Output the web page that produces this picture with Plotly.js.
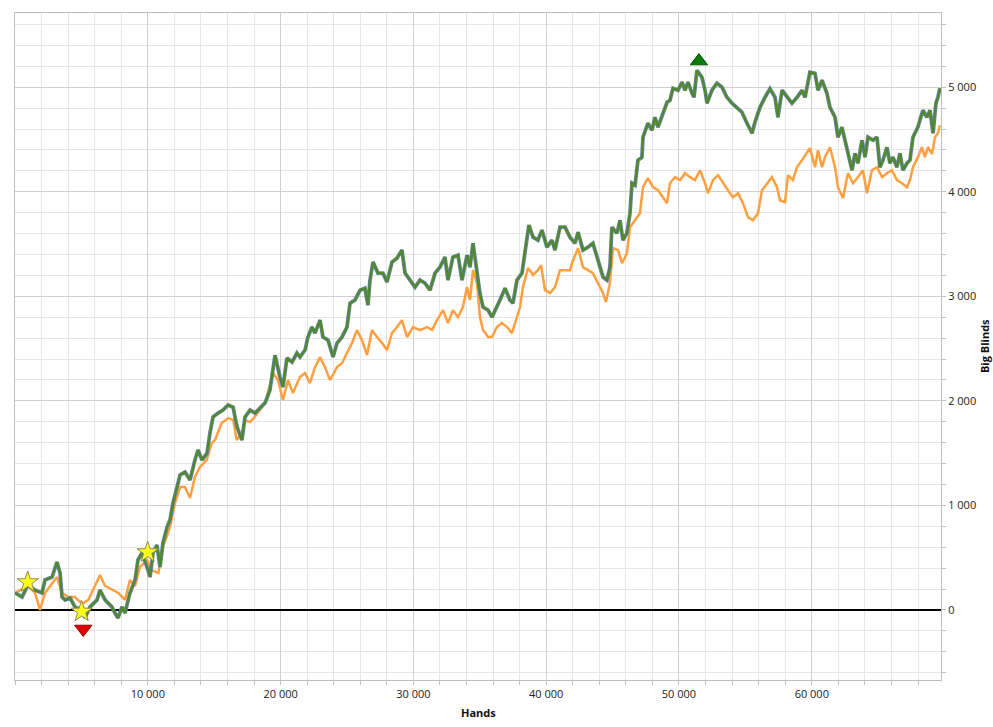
<!DOCTYPE html>
<html>
<head>
<meta charset="utf-8">
<script src="https://cdn.plot.ly/plotly-3.0.1.min.js"></script>
<style>
html,body{margin:0;padding:0;background:#fff;}
#chart{width:993px;height:727px;}
</style>
</head>
<body>
<div id="chart"></div>
<script>
// Net won (green) – hands and big blinds
const wonHands = [0,530,980,1500,2030,2260,2790,3160,3390,3540,3770,4140,4520,5050,5270,5650,6180,6400,6780,7300,7530,7760,8060,8280,8660,9040,9260,9560,9940,10170,10390,10690,10920,11140,11450,11670,11900,12200,12430,12800,13180,13550,13780,14080,14460,14680,14910,15290,15660,16040,16420,16720,17090,17320,17700,18070,18830,19200,19580,19950,20180,20480,20860,21230,21460,21840,22060,22360,22590,22970,23190,23570,23950,24250,24620,25000,25230,25600,25980,26350,26580,26730,26960,27330,27710,28010,28390,28760,29140,29370,29740,30120,30500,30870,31250,31630,32000,32380,32600,32980,33360,33660,34040,34260,34490,34790,35010,35240,35620,35920,36290,36520,36900,37270,37500,37800,38180,38400,38700,39010,39380,39680,40060,40440,40660,41040,41420,41790,42170,42400,42770,43150,43520,43900,44280,44580,44800,44950,45330,45560,45780,46080,46310,46460,46690,46910,47210,47290,47660,47970,48190,48420,48790,49100,49320,49550,49920,50230,50450,50680,50980,51130,51350,51730,51960,52110,52480,52860,53240,53610,53990,54370,54740,55120,55500,55720,56100,56480,56850,57230,57450,57760,58130,58510,58890,59260,59490,59860,60240,60470,60770,61140,61370,61750,61970,62270,62500,62720,63030,63250,63480,63780,64010,64230,64610,64910,65130,65360,65660,65880,66110,66410,66640,66860,67170,67390,67620,67990,68370,68670,68900,69130,69350,69500,69650];
const wonBB = [163,124,240,190,163,287,315,459,354,124,96,115,29,0,-76,29,96,191,96,29,-29,-76,29,-29,163,287,478,545,411,315,545,621,411,640,793,860,1023,1176,1291,1319,1243,1434,1530,1434,1500,1692,1845,1883,1912,1960,1940,1750,1625,1845,1912,1883,1980,2103,2437,2228,2132,2409,2371,2457,2419,2486,2610,2706,2648,2772,2610,2581,2419,2553,2610,2706,2935,2964,3059,3078,2916,3155,3327,3222,3222,3136,3327,3365,3442,3222,3155,3088,3155,3126,3059,3222,3279,3375,3155,3375,3394,3155,3394,3279,3508,3250,3030,2897,2868,2801,2897,2964,3078,2964,2935,3155,3222,3442,3681,3566,3537,3633,3470,3537,3442,3661,3661,3566,3508,3614,3442,3470,3508,3346,3184,3155,3279,3661,3604,3728,3537,3604,3795,4082,4063,4302,4331,4522,4656,4589,4713,4618,4751,4856,4875,4990,4971,5048,4971,5048,4942,4904,5162,5095,4971,4847,4971,5038,5000,4904,4847,4808,4761,4656,4560,4665,4808,4904,4985,4904,4713,4971,4904,4847,4904,4971,4904,5143,5133,4971,5067,4942,4808,4713,4522,4618,4493,4369,4206,4369,4273,4493,4331,4522,4493,4522,4235,4302,4426,4273,4331,4235,4369,4206,4273,4302,4522,4618,4780,4713,4780,4560,4847,4904,4990];

// All-in adjusted EV (orange)
const evHands = [0,980,1510,1880,2260,2790,3160,3540,4020,4520,5050,5520,6030,6400,6780,7300,7780,8280,8660,9040,9410,9940,10290,10800,11140,11670,12050,12430,12800,13180,13550,13930,14430,14810,15060,15560,16060,16440,16690,17070,17320,17700,18070,18830,19430,19800,20180,20560,20930,21460,21840,22210,22590,22970,23340,23720,24250,24620,25000,25380,25750,26130,26510,26880,27260,27640,28010,28390,28760,29140,29520,29970,30500,31020,31400,31780,32230,32600,32980,33360,33730,34040,34260,34490,34790,35010,35240,35620,35920,36290,36670,37050,37420,37800,38030,38250,38630,39010,39380,39610,39910,40290,40660,41040,41420,41790,42020,42400,42770,43150,43520,43900,44280,44500,44800,45030,45410,45710,46080,46310,46690,47060,47290,47660,48040,48420,48790,49100,49320,49700,50080,50450,50830,51200,51580,51960,52180,52560,52940,53310,53690,54070,54440,54820,55200,55570,55950,56250,56630,57000,57380,57600,57980,58210,58580,58880,59260,59640,59860,60240,60470,60770,60990,61370,61750,61970,62350,62720,63100,63480,63850,64160,64530,64910,65290,65660,66040,66410,66790,67170,67390,67620,67990,68290,68520,68750,69050,69280,69500,69650];
const evBB = [163,230,163,0,163,258,315,163,124,124,57,96,230,335,230,191,163,96,287,230,411,478,380,354,602,793,1023,1176,1176,1071,1272,1367,1434,1596,1625,1788,1835,1816,1625,1692,1816,1797,1850,1980,2266,2199,2008,2199,2075,2228,2266,2170,2323,2419,2323,2199,2323,2361,2457,2553,2677,2581,2438,2677,2610,2553,2486,2648,2706,2772,2610,2706,2677,2706,2677,2772,2868,2744,2868,2801,2897,3088,2964,3250,3126,2801,2677,2610,2610,2706,2744,2706,2648,2801,2897,3088,3270,3203,3250,3298,3059,3030,3088,3250,3250,3250,3346,3461,3279,3250,3222,3126,3030,2945,3126,3461,3442,3317,3413,3661,3728,3795,4044,4130,4044,4015,3948,3891,4082,4140,4111,4178,4140,4111,4206,4082,3986,4111,4159,4082,4015,3948,3986,3891,3757,3728,3795,4015,4082,4140,4044,3919,3900,4159,4111,4235,4302,4369,4417,4235,4398,4235,4331,4426,4235,4044,3938,4178,4082,4140,4206,3986,4206,4235,4140,4178,4206,4111,4082,4044,4111,4235,4331,4426,4331,4426,4360,4522,4560,4637];

// Event markers
const starHands = [960, 5020, 9990];
const starBB = [265, -16, 552];
const lowHands = [5140];
const lowBB = [-182];
const highHands = [51500];
const highBB = [5250];

// Axis ticks
const xTickVals = [10000, 20000, 30000, 40000, 50000, 60000];
const yTickVals = [0, 1000, 2000, 3000, 4000, 5000];

const traces = [
  {x: evHands, y: evBB, type: 'scatter', mode: 'lines',
   line: {color: '#ff9f40', width: 2.5}, hoverinfo: 'skip'},
  {x: wonHands, y: wonBB, type: 'scatter', mode: 'lines',
   line: {color: '#6c84a2', width: 3.8}, hoverinfo: 'skip'},
  {x: wonHands, y: wonBB, type: 'scatter', mode: 'lines',
   line: {color: '#4e8a2c', width: 2.2}, hoverinfo: 'skip'},
  {x: starHands, y: starBB, type: 'scatter', mode: 'markers',
   marker: {symbol: 'star', size: 16, color: '#ffff1a', line: {color: '#8a8a5a', width: 1}}},
  {x: lowHands, y: lowBB, type: 'scatter', mode: 'markers',
   marker: {symbol: 'triangle-down', size: 15, color: '#e00000', line: {color: '#900000', width: 1}}},
  {x: highHands, y: highBB, type: 'scatter', mode: 'markers',
   marker: {symbol: 'triangle-up', size: 15, color: '#0a7a0a', line: {color: '#055505', width: 1}}}
];

const layout = {
  width: 993, height: 727,
  margin: {l: 15, r: 52, t: 13, b: 47},
  paper_bgcolor: '#ffffff', plot_bgcolor: '#ffffff',
  showlegend: false,
  separators: '. ',
  font: {family: 'Open Sans, DejaVu Sans, sans-serif', size: 11, color: '#222'},
  xaxis: {
    range: [0, 69730],
    tickmode: 'array', tickvals: xTickVals, tickformat: ',d',
    showgrid: true, gridcolor: '#cfcfcf', gridwidth: 1,
    ticks: 'outside', ticklen: 4, tickcolor: '#bfbfbf',
    minor: {dtick: 2000, tick0: 0, showgrid: true, gridcolor: '#e6e6e6', ticks: 'outside', ticklen: 4, tickcolor: '#bfbfbf'},
    showline: true, linecolor: '#bfbfbf', linewidth: 1, mirror: true,
    zeroline: false,
    tickfont: {size: 11, color: '#222'}
  },
  yaxis: {
    range: [-670, 5710], side: 'right',
    tickmode: 'array', tickvals: yTickVals, tickformat: ',d',
    showgrid: true, gridcolor: '#cfcfcf', gridwidth: 1,
    ticks: 'outside', ticklen: 4, tickcolor: '#bfbfbf',
    minor: {dtick: 200, tick0: 0, showgrid: true, gridcolor: '#e6e6e6', ticks: 'outside', ticklen: 4, tickcolor: '#bfbfbf'},
    showline: true, linecolor: '#bfbfbf', linewidth: 1, mirror: true,
    zeroline: true, zerolinecolor: '#000000', zerolinewidth: 2,
    tickfont: {size: 11, color: '#222'}
  },
  annotations: [
    {text: '<b>Hands</b>', xref: 'paper', yref: 'paper', x: 0.5, y: -0.049,
     xanchor: 'center', yanchor: 'middle', showarrow: false, font: {size: 11, color: '#111'}},
    {text: '<b>Big Blinds</b>', xref: 'paper', yref: 'paper', x: 1.047, y: 0.5,
     xanchor: 'center', yanchor: 'middle', textangle: -90, showarrow: false, font: {size: 11, color: '#111'}}
  ]
};

Plotly.newPlot('chart', traces, layout, {displayModeBar: false, staticPlot: true});
</script>
</body>
</html>
